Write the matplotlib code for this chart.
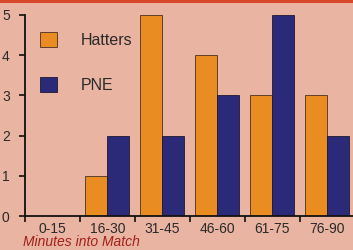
import numpy as np
import matplotlib.pyplot as plt
from matplotlib.patches import Patch, Rectangle

periods = ['0-15', '16-30', '31-45', '46-60', '61-75', '76-90']
hatters = [0, 1, 5, 4, 3, 3]
pne = [0, 2, 2, 3, 5, 2]

bg = '#eab4a2'
orange = '#e98c22'
navy = '#2a2a78'

plt.rcParams['font.family'] = ['Liberation Sans', 'DejaVu Sans']

fig = plt.figure(figsize=(3.53, 2.5), dpi=100, facecolor=bg)
W, H = 353.0, 250.0
ax = fig.add_axes([25 / W, 1 - 216 / H, 330 / W, 201 / H])
ax.set_facecolor(bg)

x = np.arange(len(periods))
ax.bar(x - 0.2, hatters, width=0.4, color=orange, edgecolor='#4a3020', linewidth=0.6)
ax.bar(x + 0.2, pne, width=0.4, color=navy, edgecolor='#201830', linewidth=0.6)

ax.set_xlim(-0.5, len(periods) - 0.5)
ax.set_ylim(0, 5)

for s in ['top', 'right']:
    ax.spines[s].set_visible(False)
for s in ['left', 'bottom']:
    ax.spines[s].set_linewidth(1.3)
    ax.spines[s].set_color('#111111')

ax.set_yticks(range(6))
ax.tick_params(axis='y', length=4, width=1.1, pad=7, labelsize=10, labelcolor='#2a2a2a')
ax.set_xticks(np.arange(-0.5, len(periods), 1.0))
ax.set_xticklabels([])
ax.tick_params(axis='x', which='major', length=4, width=1.1)
ax.set_xticks(x, minor=True)
ax.set_xticklabels(periods, minor=True)
ax.tick_params(axis='x', which='minor', length=0, pad=4, labelsize=10, labelcolor='#2a2a2a')

handles = [Patch(facecolor=orange, edgecolor='#4a3020', linewidth=0.6),
           Patch(facecolor=navy, edgecolor='#201830', linewidth=0.6)]
leg = ax.legend(handles, ['Hatters', 'PNE'], loc='upper left',
                bbox_to_anchor=(40 / W, 1 - 32 / H), bbox_transform=fig.transFigure,
                frameon=False, fontsize=11.5, handlelength=1.05, handleheight=1.05,
                handletextpad=1.5, labelspacing=1.85, borderpad=0, borderaxespad=0)
for t in leg.get_texts():
    t.set_color('#2a2a2a')

fig.text(23 / W, 1 - 242 / H, 'Minutes into Match', style='italic', fontsize=10,
         color='#a02018', va='center', ha='left')

# red strip along the top edge of the scan
fig.patches.append(Rectangle((0, 1 - 3 / H), 1, 3 / H, transform=fig.transFigure,
                             facecolor='#d8482a', edgecolor='none'))

fig.savefig('out.png', dpi=100, facecolor=bg)
